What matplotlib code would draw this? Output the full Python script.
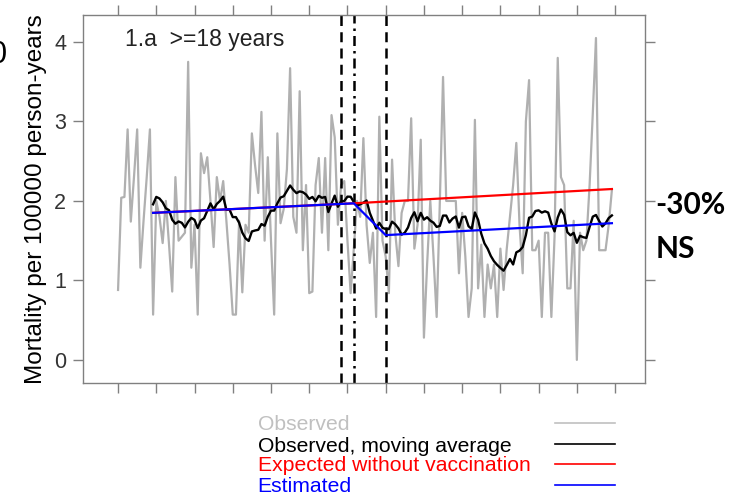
import matplotlib
matplotlib.use('Agg')
import matplotlib.pyplot as plt
from matplotlib.lines import Line2D
import numpy as np
import pandas as pd

plt.rcParams['font.family'] = ['Liberation Sans', 'DejaVu Sans']

# monthly observed mortality, month 0..155
observed = [
    0.88, 2.04, 2.05, 2.9, 1.74, 2.3, 2.9, 1.16, 1.75, 2.3, 2.9, 0.57,
    2.0, 1.8, 1.47, 2.0, 1.45, 0.86, 2.3, 1.5, 1.55, 1.6, 3.75, 1.16,
    1.7, 0.57, 2.6, 2.35, 2.55, 2.0, 1.42, 2.3, 2.0, 2.25, 1.75, 1.2,
    0.57, 0.57, 1.75, 0.85, 1.7, 1.6, 2.85, 2.45, 2.1, 3.12, 1.5, 2.55,
    1.5, 0.57, 2.85, 1.72, 1.9, 2.4, 3.67, 1.8, 1.6, 3.38, 1.38, 2.2,
    0.84, 0.86, 2.2, 2.54, 1.6, 2.54, 1.38, 3.08, 2.8, 1.7, 2.2, 2.25,
    1.5, 0.84, 1.4, 2.0, 1.8, 2.79, 1.7, 1.22, 1.6, 0.54, 3.06, 1.5,
    1.3, 0.84, 2.52, 1.6, 1.18, 1.85, 2.0, 2.0, 3.04, 1.4, 1.7, 2.77,
    0.28, 1.2, 2.0, 1.3, 0.54, 2.0, 3.56, 2.0, 2.0, 2.0, 2.0, 1.09,
    1.85, 1.3, 0.54, 0.9, 3.02, 0.9, 1.45, 0.54, 1.2, 0.9, 1.2, 0.54,
    1.4, 0.88, 1.4, 1.8, 2.2, 2.73, 1.7, 1.09, 3.0, 3.52, 1.38, 1.38,
    1.5, 0.54, 1.6, 1.6, 0.54, 1.55, 3.8, 2.3, 2.2, 0.9, 0.9, 1.75,
    0.0, 1.6, 1.38, 1.5, 2.2, 3.1, 4.05, 1.38, 1.38, 1.38, 1.7, 2.14,
]
months = np.arange(len(observed))
moving_avg = pd.Series(observed).rolling(12).mean()

# piecewise trend lines (month, value)
est_months = [11, 74, 84, 155]
est_values = [1.85, 1.97, 1.57, 1.72]
exp_months = [11, 74, 155]
exp_values = [1.85, 1.97, 2.15]

dashed_months = [70, 84]
dashdot_month = 74

fig = plt.figure(figsize=(7.32, 4.98), dpi=100)
ax = fig.add_axes([0.1134, 0.231, 0.7678, 0.739])

ax.plot(months, observed, color='#b0b0b0', lw=1.6, zorder=1)
for m in dashed_months:
    ax.axvline(m, color='black', lw=1.8, ls=(0, (4, 2.5)), zorder=2)
ax.axvline(dashdot_month, color='black', lw=1.8, ls=(0, (4, 2, 1, 2)), zorder=2)
ax.plot(months, moving_avg, color='black', lw=1.7, zorder=3)
ax.plot(exp_months, exp_values, color='#ff0000', lw=1.6, zorder=4)
ax.plot(est_months, est_values, color='#0000ff', lw=1.6, zorder=5)

ax.set_xlim(-11, 165.4)
ax.set_ylim(-0.29, 4.34)
ax.set_xticks(np.arange(0, 157, 12))
ax.set_xticklabels([])
ax.set_yticks([0, 1, 2, 3, 4])
ax.tick_params(axis='both', direction='out', length=7, width=1, color='#808080',
               labelsize=15.5, labelcolor='#333333', top=True, right=True,
               labelright=False, labeltop=False, pad=5)
for s in ax.spines.values():
    s.set_color('#808080')
    s.set_linewidth(1)

ax.set_ylabel('Mortality per 100000 person-years', fontsize=17.5, labelpad=5)
ax.text(0.075, 0.932, '1.a  >=18 years', transform=ax.transAxes, fontsize=16.5,
        ha='left', va='center', color='#222222')

fig.text(0.895, 0.588, '-30%', fontsize=21.5, fontweight='bold', family='Lato',
         ha='left', va='center')
fig.text(0.895, 0.500, 'NS', fontsize=21.5, fontweight='bold', family='Lato',
         ha='left', va='center')
fig.text(-0.0137, 0.89, '0', fontsize=22, ha='left', va='center')

# legend, lattice style
leg_labels = ['Observed', 'Observed, moving average',
              'Expected without vaccination', 'Estimated']
leg_colors = ['#c0c0c0', '#000000', '#ff0000', '#0000ff']
leg_y = [0.1466, 0.1044, 0.0643, 0.0221]
for lab, col, y in zip(leg_labels, leg_colors, leg_y):
    fig.text(0.352, y, lab, color=col, fontsize=15.2, ha='left', va='center')
    fig.add_artist(Line2D([0.758, 0.840], [y + 0.004, y + 0.004], color=col,
                          lw=1.2, transform=fig.transFigure))

fig.savefig('out.png', dpi=100)
